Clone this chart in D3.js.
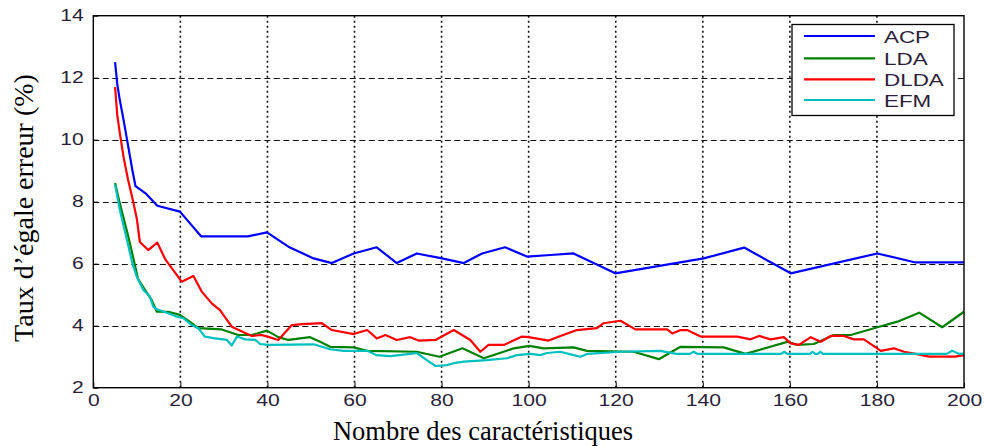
<!DOCTYPE html>
<html>
<head>
<meta charset="utf-8">
<script src="https://cdn.jsdelivr.net/npm/d3@7"></script>
<style>
  html, body { margin: 0; padding: 0; background: #fff; }
  svg { display: block; }
</style>
</head>
<body>
<svg id="chart" width="984" height="446"></svg>
<script>
// Equal error rate (%) vs. number of features, four methods
const seriesNames = ["ACP", "LDA", "DLDA", "EFM"];
const seriesColors = ["#0000ff", "#008000", "#ff0000", "#00bfbf"];

const xTicks = [0, 20, 40, 60, 80, 100, 120, 140, 160, 180, 200];
const yTicks = [2, 4, 6, 8, 10, 12, 14];

const acpX = [5, 5.5, 6, 7, 8, 9, 9.7, 12, 14.7, 19.9, 24.8, 35.5, 39.9, 44.8, 50.6, 54.8, 59.8, 65.1, 69.7, 74.3, 80.1, 85.1, 89.3, 94.6, 99.6, 105, 110.3, 119.9, 140.2, 149.5, 160.2, 180.1, 188.9, 200];
const acpY = [12.5, 11.8, 11.35, 10.6, 9.8, 9.0, 8.5, 8.27, 7.87, 7.68, 6.88, 6.88, 7.01, 6.55, 6.17, 6.02, 6.33, 6.53, 6.02, 6.33, 6.17, 6.02, 6.33, 6.53, 6.23, 6.28, 6.33, 5.69, 6.17, 6.52, 5.69, 6.33, 6.04, 6.04];

const ldaX = [5, 6, 7, 8, 9, 10.3, 11.9, 13.4, 14.6, 17.2, 19.9, 22.6, 24.1, 29.5, 33.3, 36.4, 39.9, 42.5, 44.8, 49.8, 52.1, 54.4, 59.8, 62.9, 74.3, 79.5, 84.8, 89.7, 96.6, 100.2, 103.4, 110.3, 113.4, 124.1, 129.9, 134.9, 144.8, 149.8, 159.4, 161.7, 165.5, 170.1, 174, 180.1, 184.7, 189.7, 195, 200];
const ldaY = [8.6, 8.0, 7.45, 6.9, 6.3, 5.5, 5.15, 4.83, 4.45, 4.45, 4.35, 4.08, 3.92, 3.88, 3.7, 3.7, 3.84, 3.63, 3.54, 3.63, 3.48, 3.32, 3.3, 3.19, 3.16, 3.0, 3.27, 2.95, 3.27, 3.35, 3.27, 3.3, 3.19, 3.16, 2.92, 3.32, 3.3, 3.09, 3.48, 3.38, 3.41, 3.7, 3.7, 3.95, 4.13, 4.42, 3.95, 4.45];

const dldaX = [5, 5.5, 6, 7, 8, 9, 10, 10.7, 12.6, 14.7, 16.5, 20.3, 23, 24.9, 27.2, 29.1, 31.8, 36.4, 38.7, 40.2, 42.5, 45.6, 48, 52.5, 54.8, 59.8, 62.9, 65.1, 67.1, 69.7, 72.8, 74.7, 78.6, 82.8, 86.6, 88.9, 90.8, 94.3, 98.5, 100, 104.6, 107.3, 111.1, 115.7, 117.2, 121.1, 124.5, 131.8, 133, 134.9, 136.4, 139.5, 147.9, 151, 152.9, 155.6, 158.6, 160.2, 162.1, 164.8, 167.1, 169.4, 172.4, 174.7, 177, 180.9, 183.9, 186.2, 188.9, 192, 198, 200];
const dldaY = [11.7, 10.8, 10.3, 9.4, 8.7, 8.1, 7.45, 6.7, 6.44, 6.68, 6.15, 5.42, 5.6, 5.1, 4.72, 4.5, 3.97, 3.67, 3.7, 3.64, 3.54, 4.02, 4.05, 4.08, 3.86, 3.73, 3.86, 3.59, 3.7, 3.54, 3.63, 3.52, 3.54, 3.86, 3.54, 3.16, 3.38, 3.38, 3.65, 3.63, 3.52, 3.67, 3.86, 3.92, 4.08, 4.16, 3.88, 3.88, 3.75, 3.86, 3.86, 3.65, 3.65, 3.56, 3.67, 3.56, 3.63, 3.43, 3.38, 3.63, 3.48, 3.67, 3.67, 3.56, 3.56, 3.19, 3.27, 3.16, 3.09, 3.0, 3.0, 3.05];

const efmX = [5, 6, 7, 8, 9, 10, 11.5, 13, 13.8, 14.6, 16.9, 18.8, 20.7, 22.6, 24.1, 25.6, 28, 30.7, 31.8, 33, 34.9, 37.2, 38.3, 40.2, 50.6, 54.4, 57.5, 62.9, 65.1, 68.2, 72.8, 74.3, 76.6, 78.6, 81.2, 82.8, 85.1, 90.4, 95, 97.3, 100.4, 102.7, 104.2, 107.3, 110.3, 111.9, 113.4, 121.1, 130.3, 133.9, 137, 137.9, 138.8, 158, 158.7, 159.4, 164.6, 165.2, 165.8, 166.4, 167, 167.6, 196, 197.3, 198.9, 200];
const efmY = [8.55, 7.8, 7.2, 6.6, 6.0, 5.58, 5.15, 4.94, 4.61, 4.53, 4.42, 4.31, 4.24, 4.02, 3.92, 3.65, 3.59, 3.54, 3.36, 3.65, 3.56, 3.54, 3.41, 3.38, 3.4, 3.24, 3.19, 3.19, 3.05, 3.02, 3.09, 3.12, 2.89, 2.7, 2.73, 2.79, 2.84, 2.89, 2.95, 3.05, 3.09, 3.05, 3.12, 3.16, 3.05, 3.0, 3.09, 3.16, 3.19, 3.09, 3.09, 3.16, 3.09, 3.09, 3.16, 3.09, 3.09, 3.16, 3.09, 3.09, 3.16, 3.09, 3.09, 3.19, 3.09, 3.1];

const seriesX = [acpX, ldaX, dldaX, efmX];
const seriesY = [acpY, ldaY, dldaY, efmY];

const svg = d3.select("#chart");
const plotLeft = 93.3, plotRight = 964, plotTop = 15.7, plotBottom = 387.7;

const x = d3.scaleLinear().domain([0, 200]).range([plotLeft, plotRight]);
const y = d3.scaleLinear().domain([2, 14]).range([plotBottom, plotTop]);

const tickFont = "'Liberation Sans', Arial, sans-serif";
const serif = "'Liberation Serif', 'Times New Roman', serif";
const textInk = "#2b1f3a";

// widen sans-serif labels horizontally
function widen(sel, factor) {
  sel.each(function () {
    const w = this.getComputedTextLength();
    d3.select(this).attr("textLength", w * factor).attr("lengthAdjust", "spacingAndGlyphs");
  });
}

// plot background
svg.append("rect")
  .attr("x", plotLeft).attr("y", plotTop)
  .attr("width", plotRight - plotLeft).attr("height", plotBottom - plotTop)
  .attr("fill", "#fff");

// grid: dashed horizontals, dotted verticals
const grid = svg.append("g").attr("stroke", "#111").attr("fill", "none");
grid.selectAll("line.h").data(yTicks.slice(1, -1)).enter().append("line")
  .attr("class", "h")
  .attr("x1", plotLeft).attr("x2", plotRight)
  .attr("y1", d => Math.round(y(d)) + 0.5).attr("y2", d => Math.round(y(d)) + 0.5)
  .attr("stroke-width", 1)
  .attr("stroke-dasharray", "6,3.5");
grid.selectAll("line.v").data(xTicks.slice(1, -1)).enter().append("line")
  .attr("class", "v")
  .attr("y1", plotTop).attr("y2", plotBottom)
  .attr("x1", d => x(d)).attr("x2", d => x(d))
  .attr("stroke-width", 1.6)
  .attr("stroke-dasharray", "2,3");

// axes with inward ticks
const xAxis = svg.append("g")
  .attr("transform", `translate(0,${plotBottom})`)
  .call(d3.axisBottom(x).tickValues(xTicks).tickSize(-5).tickFormat(d3.format("d")));
const yAxis = svg.append("g")
  .attr("transform", `translate(${plotLeft},0)`)
  .call(d3.axisLeft(y).tickValues(yTicks).tickSize(-5).tickFormat(d3.format("d")));
[xAxis, yAxis].forEach(a => {
  a.select(".domain").remove();
  a.selectAll(".tick line").attr("stroke", "#000");
  a.selectAll(".tick text")
    .attr("font-family", tickFont)
    .attr("font-size", 16)
    .attr("fill", textInk);
});
xAxis.selectAll(".tick text").attr("y", 18.3).attr("dy", 0);
yAxis.selectAll(".tick text").attr("x", -9.5).attr("dy", 5);
widen(xAxis.selectAll(".tick text"), 1.32);
widen(yAxis.selectAll(".tick text"), 1.32);

// series lines
const line = d3.line().x(d => x(d[0])).y(d => y(d[1]));
const lines = svg.append("g").attr("fill", "none").attr("stroke-width", 2.2)
  .attr("stroke-linejoin", "round");
seriesNames.forEach((name, i) => {
  const pts = seriesX[i].map((v, j) => [v, seriesY[i][j]]);
  lines.append("path")
    .datum(pts)
    .attr("stroke", seriesColors[i])
    .attr("d", line);
});

// plot box
svg.append("rect")
  .attr("x", plotLeft).attr("y", plotTop)
  .attr("width", plotRight - plotLeft).attr("height", plotBottom - plotTop)
  .attr("fill", "none").attr("stroke", "#000").attr("stroke-width", 1.4);

// legend
const lg = svg.append("g");
lg.append("rect")
  .attr("x", 792).attr("y", 24.5).attr("width", 162).attr("height", 91)
  .attr("fill", "#fff").attr("stroke", "#000").attr("stroke-width", 1.3);
const legendRows = [36, 58.3, 79.3, 100];
seriesNames.forEach((name, i) => {
  lg.append("line")
    .attr("x1", 804).attr("x2", 875)
    .attr("y1", legendRows[i]).attr("y2", legendRows[i])
    .attr("stroke", seriesColors[i]).attr("stroke-width", 2.2);
  lg.append("text")
    .attr("x", 884).attr("y", legendRows[i] + 7)
    .attr("font-family", tickFont).attr("font-size", 16)
    .attr("fill", textInk)
    .text(name);
});
widen(lg.selectAll("text"), 1.4);

// axis titles
svg.append("text")
  .attr("x", 483).attr("y", 440)
  .attr("text-anchor", "middle")
  .attr("font-family", serif).attr("font-size", 26.5)
  .attr("fill", "#000")
  .text("Nombre des caractéristiques");

svg.append("text")
  .attr("transform", "translate(33,208) rotate(-90)")
  .attr("text-anchor", "middle")
  .attr("font-family", serif).attr("font-size", 28)
  .attr("fill", "#000")
  .text("Taux d’égale erreur (%)");
</script>
</body>
</html>
